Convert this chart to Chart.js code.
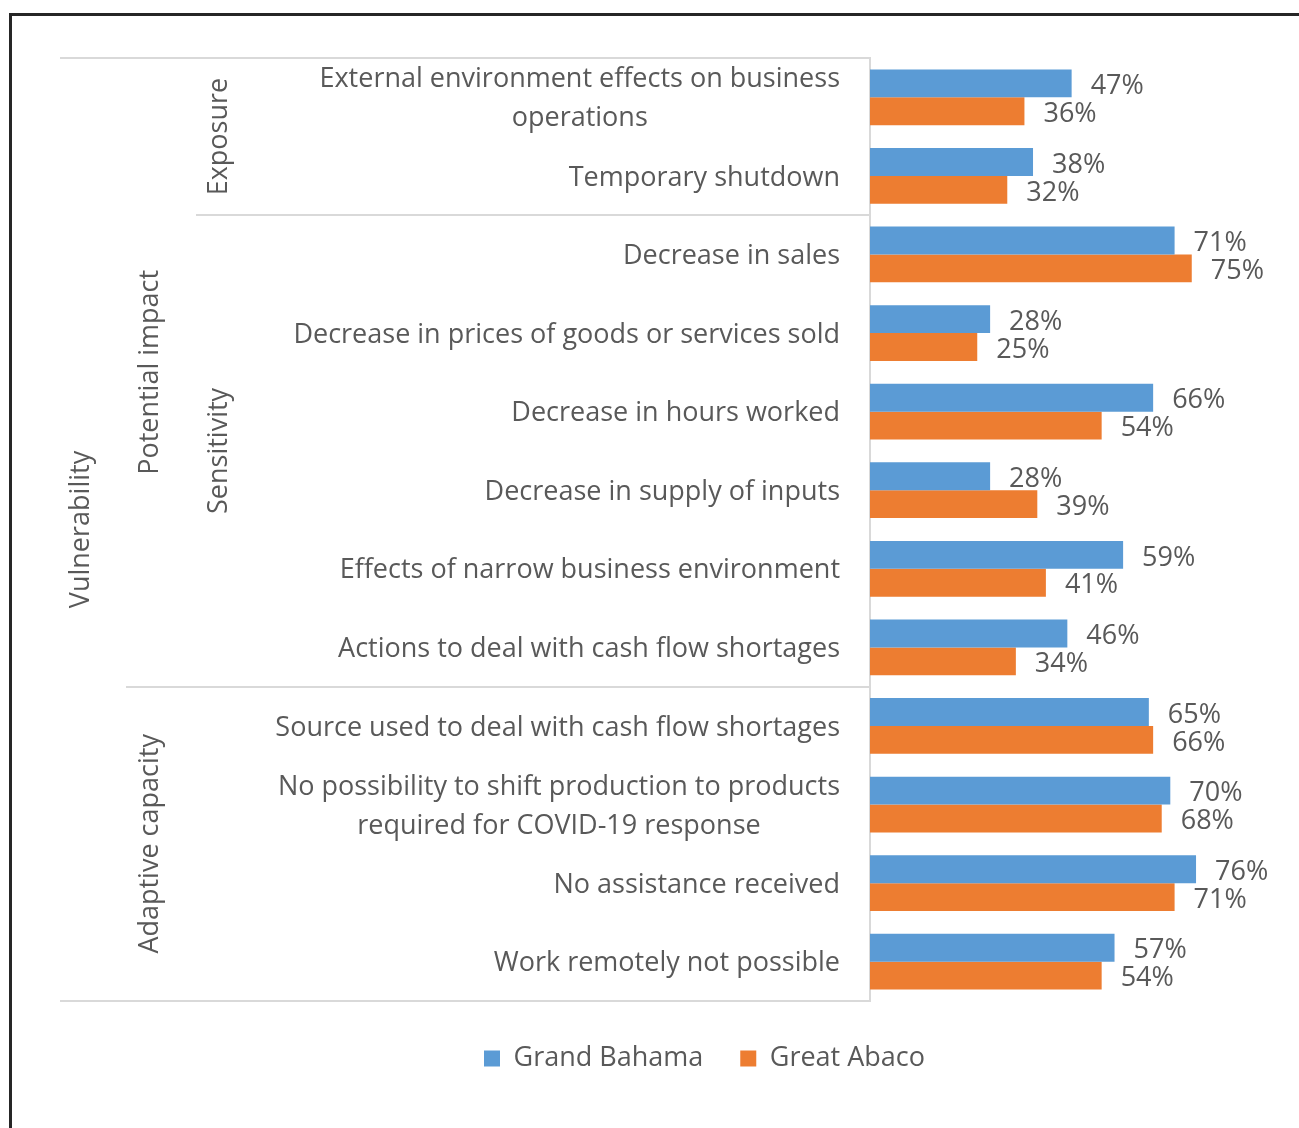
<!DOCTYPE html>
<html>
<head>
<meta charset="utf-8">
<script src="https://cdn.jsdelivr.net/npm/chart.js@4.4.1/dist/chart.umd.min.js"></script>
<style>
  html, body { margin: 0; padding: 0; background: #fff; }
</style>
</head>
<body>
<canvas id="chart" width="1299" height="1128"></canvas>
<script>
// --- Data ---
const categories = [
    ['External environment effects on business', 'operations'],
    'Temporary shutdown',
    'Decrease in sales',
    'Decrease in prices of goods or services sold',
    'Decrease in hours worked',
    'Decrease in supply of inputs',
    'Effects of narrow business environment',
    'Actions to deal with cash flow shortages',
    'Source used to deal with cash flow shortages',
    ['No possibility to shift production to products', 'required for COVID-19 response'],
    'No assistance received',
    'Work remotely not possible'
];
const grandBahama = [47, 38, 71, 28, 66, 28, 59, 46, 65, 70, 76, 57];
const greatAbaco = [36, 32, 75, 25, 54, 39, 41, 34, 66, 68, 71, 54];
const seriesNames = ['Grand Bahama', 'Great Abaco'];

// group labels on the left, spans are [first, last] category index
const outerGroups = ['Vulnerability'];
const outerSpans = [[0, 11]];
const middleGroups = ['Potential impact', 'Adaptive capacity'];
const middleSpans = [[0, 7], [8, 11]];
const innerGroups = ['Exposure', 'Sensitivity'];
const innerSpans = [[0, 1], [2, 7]];

const FONT = '"Open Sans", sans-serif';
const FONT_SIZE = 27;
const TEXT = '#595959';
const LINE = '#d9d9d9';

// draws frame, group labels, separators, category labels and value labels
const sidePlugin = {
    id: 'side',
    afterDatasetsDraw(chart) {
        const { ctx, chartArea, scales: { y } } = chart;
        const step = y.getPixelForValue(1) - y.getPixelForValue(0);
        const top = i => y.getPixelForValue(i) - step / 2;
        const bottom = i => y.getPixelForValue(i) + step / 2;

        ctx.save();

        // outer frame
        ctx.strokeStyle = '#262626';
        ctx.lineWidth = 3;
        ctx.beginPath();
        ctx.moveTo(10.5, 1128);
        ctx.lineTo(10.5, 14.5);
        ctx.lineTo(1299, 14.5);
        ctx.stroke();

        // separators
        ctx.strokeStyle = LINE;
        ctx.lineWidth = 2;
        const hline = (yy, x0) => {
            ctx.beginPath();
            ctx.moveTo(x0, Math.round(yy));
            ctx.lineTo(chartArea.left, Math.round(yy));
            ctx.stroke();
        };
        hline(top(outerSpans[0][0]), 60);
        hline(bottom(outerSpans[0][1]), 60);
        middleSpans.slice(1).forEach(s => hline(top(s[0]), 126));
        innerSpans.slice(1).forEach(s => hline(top(s[0]), 196));

        ctx.fillStyle = TEXT;
        ctx.font = FONT_SIZE + 'px ' + FONT;
        ctx.textBaseline = 'middle';

        // rotated group labels
        const vText = (text, x, yc) => {
            ctx.save();
            ctx.translate(x, yc);
            ctx.rotate(-Math.PI / 2);
            ctx.textAlign = 'center';
            ctx.fillText(text, 0, 0);
            ctx.restore();
        };
        outerGroups.forEach((g, i) => vText(g, 81, (top(outerSpans[i][0]) + bottom(outerSpans[i][1])) / 2));
        middleGroups.forEach((g, i) => vText(g, 150, (top(middleSpans[i][0]) + bottom(middleSpans[i][1])) / 2));
        innerGroups.forEach((g, i) => vText(g, 219, (top(innerSpans[i][0]) + bottom(innerSpans[i][1])) / 2));

        // category labels: block right aligned, lines centered inside it
        ctx.textAlign = 'center';
        const right = chartArea.left - 30;
        const lineH = 39;
        categories.forEach((cat, i) => {
            const lines = Array.isArray(cat) ? cat : [cat];
            const w = Math.max(...lines.map(l => ctx.measureText(l).width));
            const yc = y.getPixelForValue(i) + 2;
            lines.forEach((l, j) => {
                ctx.fillText(l, right - w / 2, yc + (j - (lines.length - 1) / 2) * lineH);
            });
        });

        // value labels
        ctx.textAlign = 'left';
        chart.data.datasets.forEach((ds, di) => {
            chart.getDatasetMeta(di).data.forEach((bar, i) => {
                ctx.fillText(ds.data[i] + '%', bar.x + 19, bar.y + 3);
            });
        });

        ctx.restore();
    }
};

new Chart(document.getElementById('chart'), {
    type: 'bar',
    data: {
        labels: categories.map(c => Array.isArray(c) ? c.join(' ') : c),
        datasets: [
            { label: seriesNames[0], data: grandBahama, backgroundColor: '#5B9BD5' },
            { label: seriesNames[1], data: greatAbaco, backgroundColor: '#ED7D31' }
        ]
    },
    options: {
        indexAxis: 'y',
        responsive: false,
        animation: false,
        devicePixelRatio: 1,
        categoryPercentage: 0.71,
        barPercentage: 1.0,
        layout: { padding: { top: 58, left: 110, right: 0, bottom: 46 } },
        scales: {
            y: {
                ticks: { display: false },
                grid: { display: false },
                border: { color: LINE, width: 2 },
                afterFit(scale) { scale.width = 760; }
            },
            x: {
                min: 0,
                max: 100,
                ticks: { display: false },
                grid: { display: false },
                border: { display: false },
                afterFit(scale) { scale.height = 7; }
            }
        },
        plugins: {
            tooltip: { enabled: false },
            legend: {
                position: 'bottom',
                labels: {
                    boxWidth: 16,
                    boxHeight: 16,
                    padding: 37,
                    color: TEXT,
                    font: { family: FONT, size: FONT_SIZE }
                }
            }
        }
    },
    plugins: [sidePlugin]
});
</script>
</body>
</html>
